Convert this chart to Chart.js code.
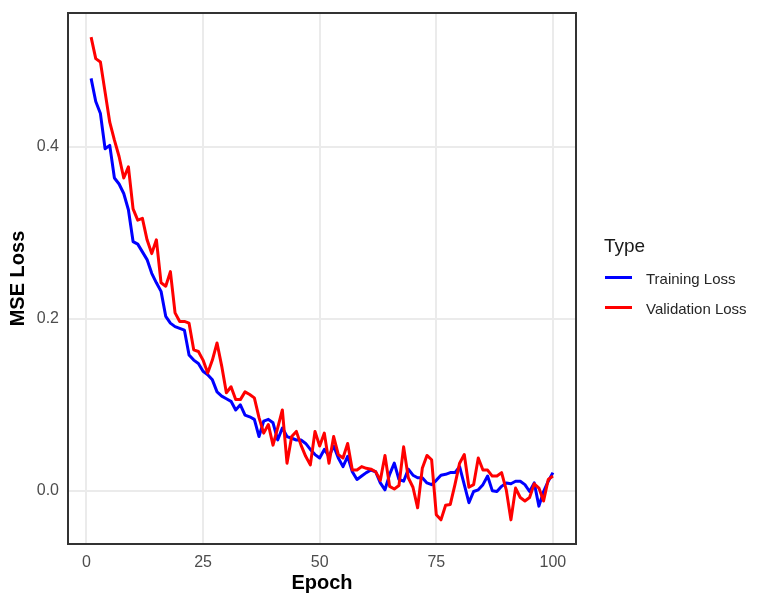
<!DOCTYPE html>
<html>
<head>
<meta charset="utf-8">
<script src="https://cdn.jsdelivr.net/npm/chart.js@4/dist/chart.umd.min.js"></script>
<style>
html,body{margin:0;padding:0;background:#ffffff;}
#wrap{position:relative;width:760px;height:605px;overflow:hidden;}
#c{position:absolute;left:0;top:0;}
.lg{position:absolute;font-family:"Liberation Sans",Arial,sans-serif;line-height:1;white-space:nowrap;transform:translateY(-50%);}
.key{position:absolute;height:3px;}
</style>
</head>
<body>
<div id="wrap">
  <canvas id="c" width="760" height="605"></canvas>
  <div class="lg" style="left:604px;top:245px;font-size:19px;color:#1a1a1a;">Type</div>
  <div class="key" style="left:605px;top:275.5px;width:27px;background:#0000FF;"></div>
  <div class="lg" style="left:646px;top:278px;font-size:15px;color:#262626;">Training Loss</div>
  <div class="key" style="left:605px;top:305.5px;width:27px;background:#FF0000;"></div>
  <div class="lg" style="left:646px;top:308px;font-size:15px;color:#262626;">Validation Loss</div>
</div>
<script>
// ---- data ----
const epochs = [1,2,3,4,5,6,7,8,9,10,11,12,13,14,15,16,17,18,19,20,
  21,22,23,24,25,26,27,28,29,30,31,32,33,34,35,36,37,38,39,40,
  41,42,43,44,45,46,47,48,49,50,51,52,53,54,55,56,57,58,59,60,
  61,62,63,64,65,66,67,68,69,70,71,72,73,74,75,76,77,78,79,80,
  81,82,83,84,85,86,87,88,89,90,91,92,93,94,95,96,97,98,99,100];

const trainingLoss = [0.480,0.453,0.439,0.398,0.402,0.364,0.357,0.346,0.327,0.290,
  0.287,0.278,0.269,0.253,0.242,0.232,0.203,0.195,0.191,0.189,
  0.187,0.158,0.152,0.148,0.139,0.135,0.129,0.115,0.110,0.107,
  0.104,0.094,0.100,0.088,0.086,0.083,0.063,0.081,0.083,0.079,
  0.059,0.073,0.063,0.061,0.059,0.059,0.055,0.048,0.042,0.038,
  0.048,0.040,0.052,0.038,0.028,0.040,0.022,0.013,0.017,0.021,
  0.024,0.022,0.009,0.001,0.019,0.032,0.013,0.011,0.025,0.018,
  0.015,0.015,0.009,0.007,0.012,0.018,0.019,0.021,0.021,0.028,
  0.007,-0.014,-0.001,0.001,0.007,0.017,0.000,-0.001,0.005,0.009,
  0.008,0.011,0.011,0.007,-0.001,0.009,-0.018,-0.001,0.011,0.021];

const validationLoss = [0.528,0.503,0.499,0.464,0.429,0.408,0.389,0.364,0.377,0.328,
  0.315,0.317,0.292,0.276,0.292,0.242,0.238,0.255,0.207,0.197,
  0.197,0.195,0.164,0.162,0.152,0.137,0.152,0.172,0.145,0.114,
  0.121,0.106,0.106,0.115,0.112,0.108,0.085,0.067,0.077,0.053,
  0.073,0.094,0.032,0.063,0.069,0.053,0.040,0.030,0.069,0.052,
  0.067,0.032,0.063,0.042,0.038,0.055,0.024,0.024,0.028,0.026,
  0.025,0.022,0.012,0.041,0.005,0.002,0.006,0.051,0.015,0.004,
  -0.020,0.026,0.041,0.036,-0.028,-0.034,-0.017,-0.016,0.007,0.032,
  0.042,0.004,0.007,0.038,0.024,0.024,0.017,0.017,0.021,0.001,
  -0.034,0.003,-0.008,-0.012,-0.008,0.008,0.003,-0.012,0.013,0.017];

const xTicks = [0,25,50,75,100];
const xTickLabels = ['0','25','50','75','100'];
const yTicks = [0.0,0.2,0.4];
const yTickLabels = ['0.0','0.2','0.4'];
const seriesNames = ['Training Loss','Validation Loss'];

// ---- chart ----
Chart.defaults.font.family = '"Liberation Sans", Arial, sans-serif';

const panelBorder = {
  id: 'panelBorder',
  afterDatasetsDraw(chart) {
    const {ctx, chartArea: a} = chart;
    ctx.save();
    ctx.strokeStyle = '#333333';
    ctx.lineWidth = 2;
    ctx.strokeRect(a.left, a.top, a.right - a.left, a.bottom - a.top);
    ctx.restore();
  }
};

const toPts = arr => epochs.map((e, i) => ({x: e, y: arr[i]}));

new Chart(document.getElementById('c'), {
  type: 'line',
  data: {
    datasets: [
      {label: seriesNames[0], data: toPts(trainingLoss), borderColor: '#0000FF', backgroundColor: '#0000FF', order: 2},
      {label: seriesNames[1], data: toPts(validationLoss), borderColor: '#FF0000', backgroundColor: '#FF0000', order: 1}
    ]
  },
  options: {
    responsive: false,
    animation: false,
    devicePixelRatio: 1,
    layout: {padding: {top: 13, right: 184, bottom: 0, left: 0}},
    plugins: {legend: {display: false}, tooltip: {enabled: false}},
    elements: {
      point: {radius: 0, hoverRadius: 0},
      line: {tension: 0, borderWidth: 3, borderJoinStyle: 'round', borderCapStyle: 'butt'}
    },
    scales: {
      x: {
        type: 'linear', min: -3.95, max: 104.95,
        afterBuildTicks: s => { s.ticks = xTicks.map(v => ({value: v})); },
        afterFit: s => { s.height = 61; s.paddingLeft = 0; s.paddingRight = 0; },
        grid: {color: '#EBEBEB', lineWidth: 2, drawTicks: false},
        border: {display: false},
        ticks: {padding: 9, color: '#4D4D4D', font: {size: 16}, autoSkip: false, maxRotation: 0,
                callback: (v, i) => xTickLabels[i]},
        title: {display: true, text: 'Epoch', color: '#000000', font: {size: 20, weight: 'bold'}, padding: 10}
      },
      y: {
        type: 'linear', min: -0.0621, max: 0.5561,
        afterBuildTicks: s => { s.ticks = yTicks.map(v => ({value: v})); },
        afterFit: s => { s.width = 68; s.paddingTop = 0; s.paddingBottom = 0; },
        grid: {color: '#EBEBEB', lineWidth: 2, drawTicks: false},
        border: {display: false},
        ticks: {padding: 9, color: '#4D4D4D', font: {size: 16}, autoSkip: false,
                callback: (v, i) => yTickLabels[i]},
        title: {display: true, text: 'MSE Loss', color: '#000000', font: {size: 20, weight: 'bold'}, padding: 6}
      }
    }
  },
  plugins: [panelBorder]
});
</script>
</body>
</html>
